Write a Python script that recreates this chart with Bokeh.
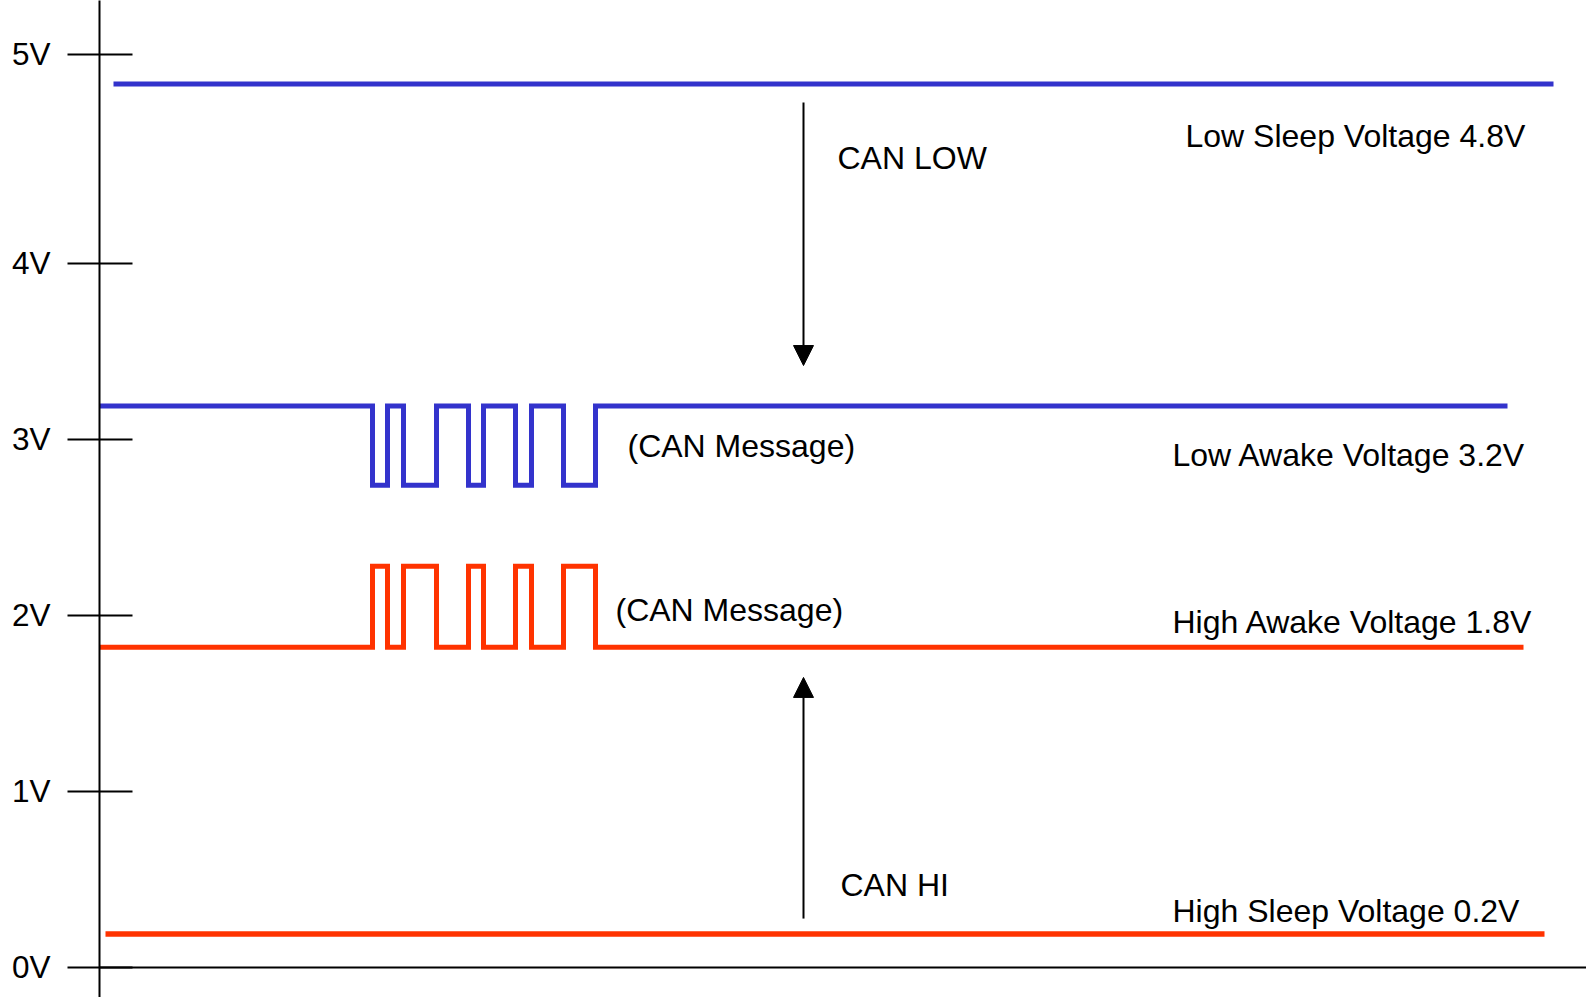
from bokeh.plotting import figure
from bokeh.models import Range1d, FixedTicker, Span, Arrow, NormalHead
from bokeh.core.properties import value
from bokeh.embed import file_html
from bokeh.resources import INLINE

# ---------------- data ----------------
# voltage axis ticks (drawn positions in volts) and their labels
y_tick_pos = [0, 1, 2, 3, 4, 5.19]
y_tick_labels = ["0V", "1V", "2V", "3V", "4V", "5V"]

# time axis (arbitrary time units)
# CAN LOW, sleep level (labelled 4.8V)
low_sleep_t = [113, 1553]
low_sleep_v = 5.02

# CAN LOW, awake: idle level, dominant level, edges of the message
low_awake_t = [99, 1507]
low_awake_idle = 3.19
low_awake_dom = 2.74
message_edges = [372, 387, 403, 436, 468, 483, 515, 531, 563, 595]

# CAN HI, awake: idle level and dominant level
hi_awake_t = [99, 1523]
hi_awake_idle = 1.82
hi_awake_dom = 2.28

# CAN HI, sleep level (labelled 0.2V)
hi_sleep_t = [105, 1544]
hi_sleep_v = 0.19

# arrows (time, start level, end level)
arrow_t = 803
can_low_arrow = [4.915, 3.42]
can_hi_arrow = [0.278, 1.648]

# text annotations
ann_text = ["Low Sleep Voltage 4.8V", "Low Awake Voltage 3.2V",
            "High Awake Voltage 1.8V", "High Sleep Voltage 0.2V",
            "CAN LOW", "CAN HI", "(CAN Message)", "(CAN Message)"]
ann_t = [1185, 1172, 1172, 1172, 837, 840, 627, 615]
ann_v = [4.659, 2.852, 1.898, 0.261, 4.534, 0.409, 2.898, 1.966]

BLUE = "#3333CC"
RED = "#FF3300"
FONT = "Liberation Sans"


def square_wave(t0, t1, idle, dom, edges):
    xs, ys = [t0], [idle]
    level = idle
    for e in edges:
        xs.append(e); ys.append(level)
        level = dom if level == idle else idle
        xs.append(e); ys.append(level)
    xs.append(t1); ys.append(level)
    return xs, ys


W, H = 1586, 997
p = figure(width=W, height=H, output_backend="svg", toolbar_location=None,
           x_range=Range1d(99, 1586), y_range=Range1d(-0.1705, 5.494),
           min_border_left=99, min_border_right=0, min_border_top=0,
           min_border_bottom=0, x_axis_location=None)
p.grid.visible = False
p.outline_line_color = None
p.background_fill_color = "white"
p.border_fill_color = "white"

ax = p.yaxis[0]
ax.ticker = FixedTicker(ticks=y_tick_pos, minor_ticks=[])
ax.major_label_overrides = {t: l for t, l in zip(y_tick_pos, y_tick_labels)}
ax.major_tick_out = 32
ax.major_tick_in = 33
ax.major_tick_line_width = 2
ax.major_tick_line_color = "black"
ax.minor_tick_line_color = None
ax.axis_line_width = 2
ax.axis_line_color = "black"
ax.major_label_standoff = 17
ax.major_label_text_font = FONT
ax.major_label_text_font_size = "31.5px"
ax.major_label_text_color = "black"

# time axis line at 0 V
p.add_layout(Span(location=0, dimension="width", line_color="black", line_width=2))

# traces
p.line(low_sleep_t, [low_sleep_v] * 2, line_color=BLUE, line_width=5)
xs, ys = square_wave(low_awake_t[0], low_awake_t[1], low_awake_idle, low_awake_dom, message_edges)
p.line(xs, ys, line_color=BLUE, line_width=5, line_join="miter")
xs, ys = square_wave(hi_awake_t[0], hi_awake_t[1], hi_awake_idle, hi_awake_dom, message_edges)
p.line(xs, ys, line_color=RED, line_width=5, line_join="miter")
p.line(hi_sleep_t, [hi_sleep_v] * 2, line_color=RED, line_width=5.5)

# arrows
for a in (can_low_arrow, can_hi_arrow):
    p.add_layout(Arrow(x_start=arrow_t, y_start=a[0], x_end=arrow_t, y_end=a[1],
                       line_color="black", line_width=2,
                       end=NormalHead(size=20, fill_color="black", line_color="black", line_width=1)))

p.text(x=ann_t, y=ann_v, text=ann_text, text_font=value(FONT), text_font_size="32px",
       text_color="black", text_baseline="alphabetic", text_align="left", y_offset=-11)

open("out.html", "w").write(file_html(p, INLINE))
